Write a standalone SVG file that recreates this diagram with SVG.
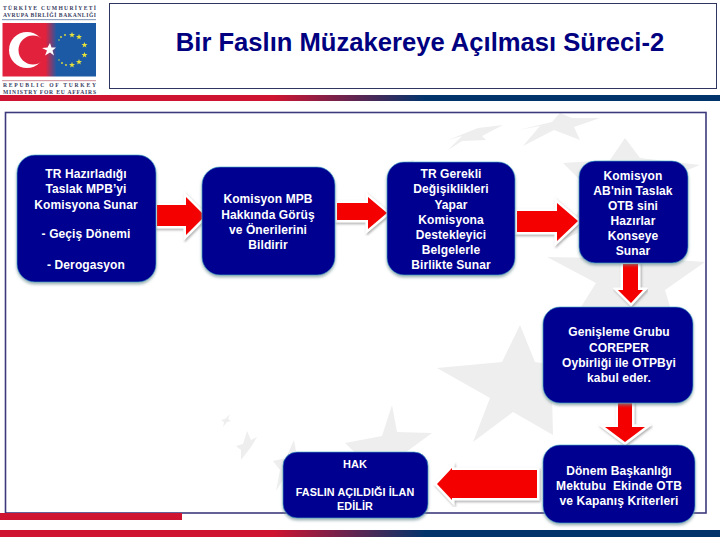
<svg xmlns="http://www.w3.org/2000/svg" width="720" height="540" viewBox="0 0 720 540">
<style>
text{font-family:"Liberation Sans",Arial,sans-serif}
.n{fill:#000090;stroke:#3fb0c8;stroke-width:.8;stroke-opacity:.75;filter:url(#ns)}
.t{fill:#fff;font-weight:700;font-size:12px;text-anchor:middle;letter-spacing:.1px}
.s{fill:#eeeeee}
.a{fill:#f40000;stroke:#fff;stroke-width:5;stroke-linejoin:miter;paint-order:stroke;filter:url(#as)}
.l{font-family:"Liberation Serif",serif;font-size:5.6px;font-weight:700;fill:#39405f}
</style>
<defs>
<linearGradient id="bar" x1="0" x2="720" y1="0" y2="0" gradientUnits="userSpaceOnUse">
<stop offset="0" stop-color="#ce1431"/><stop offset=".38" stop-color="#ce1431"/><stop offset=".59" stop-color="#02346c"/><stop offset="1" stop-color="#02346c"/>
</linearGradient>
<linearGradient id="flag" x1="0" x2="1" y1="0" y2="0">
<stop offset="0" stop-color="#e2213c"/><stop offset=".46" stop-color="#e2213c"/><stop offset=".58" stop-color="#1c5aa6"/><stop offset="1" stop-color="#1c5aa6"/>
</linearGradient>
<polygon id="eu" points="0,-3 .8,-1 3,-1 1.200,.4 1.900,2.600 0,1.300 -1.900,2.600 -1.200,.4 -3,-1 -.8,-1" fill="#e6e23a"/>
<filter id="ns" x="-10%" y="-10%" width="120%" height="125%"><feDropShadow dx="0" dy="2" stdDeviation="1.500" flood-color="#6a8a90" flood-opacity=".7"/></filter>
<filter id="as" x="-20%" y="-20%" width="140%" height="140%"><feDropShadow dx="1" dy="1.500" stdDeviation="1" flood-color="#777" flood-opacity=".6"/></filter>
</defs>
<rect width="720" height="540" fill="#fff"/>

<g id="background-stars">
<polygon class="s" points="625,138 640,158 700,165 650,185 655,240 615,215 563,240 590,190 563,163 610,160"/>
<polygon class="s" points="547,257 600,258 625,225 650,258 705,262 665,290 680,340 625,318 581,307 596,283"/>
<polygon class="s" points="520,325 535,362 590,370 552,395 553,435 513,412 473,442 490,398 437,368 502,362"/>
<polygon class="s" points="392,405 397,432 432,433 402,455 420,490 385,470 345,500 365,462 345,443 382,436"/>
<polygon class="s" points="560,113 572,118 600,118 574,127 580,140 554,130 523,146 540,126 518,130 552,122"/>
<polygon class="s" points="503,125 482,136 486,140 462,141 448,150 462,136 448,140 478,128"/>
<polygon class="s" points="414,160 408,171 395,178 400,166 386,170 403,163"/>
<polygon class="s" points="247,431 251,440 257,437 251,447 241,460 241,450 236,446 243,444"/>
<polygon class="s" points="230,414 228,419 231,421 227,422 223,427 224,422 221,420 225,419"/>
<polygon class="s" points="294,440 298,462 296,490 284,478 276,491 280,470 273,461 286,458"/>
</g>

<rect id="frame" x="5.500" y="112.500" width="700.500" height="400.500" fill="none" stroke="#3c3a7c" stroke-width="1.600"/>
<rect id="title-box" x="109.500" y="3.500" width="607" height="85" fill="#fff" stroke="#2d3560" stroke-width="1"/>
<rect id="header-bar" x="0" y="95" width="720" height="6" fill="url(#bar)"/>
<rect id="bottom-bar" x="0" y="530" width="720" height="7" fill="url(#bar)"/>
<rect id="red-bar" x="0" y="513" width="182" height="7" fill="#ce1431"/>

<g id="logo">
<text class="l" x="3" y="9.500" textLength="93">TÜRKİYE CUMHURİYETİ</text>
<text class="l" x="3" y="16.500" textLength="93">AVRUPA BİRLİĞİ BAKANLIĞI</text>
<rect x="2" y="19" width="94" height="1.200" fill="#8fa2c0"/>
<rect x="2.500" y="23" width="93.500" height="53.500" fill="url(#flag)"/>
<circle cx="27" cy="50" r="18" fill="#fff"/>
<circle cx="33" cy="50" r="14.500" fill="#e2213c"/>
<polygon points="50,43 51.500,47.500 56,47.500 52.500,50.500 54,55.500 50,52.500 45,55.500 47,50.500 42,48 47.500,47.500" fill="#fff"/>
<use href="#eu" x="72" y="35"/><use href="#eu" x="79" y="37"/><use href="#eu" x="84.500" y="45"/>
<use href="#eu" x="84.500" y="55"/><use href="#eu" x="79" y="62"/><use href="#eu" x="72" y="65"/>
<g fill="#e6e23a">
<circle cx="65" cy="35" r=".9"/><circle cx="61" cy="37" r=".9"/><circle cx="59" cy="40" r=".7"/>
<circle cx="66" cy="65" r=".9"/><circle cx="62" cy="63" r=".9"/><circle cx="59" cy="60" r=".7"/>
</g>
<rect x="2" y="80" width="94" height="1.200" fill="#d8a0a8"/>
<text class="l" x="3" y="87" textLength="93">REPUBLIC OF TURKEY</text>
<text class="l" x="3" y="93.500" textLength="93">MINISTRY FOR EU AFFAIRS</text>
</g>

<text id="title" x="420" y="51" text-anchor="middle" font-size="25.600" font-weight="700" fill="#000080">Bir Faslın Müzakereye Açılması Süreci-2</text>

<g id="connectors">
<polygon class="a" points="157,205 186,205 186,197 205,216 186,235 186,226 157,226"/>
<polygon class="a" points="337,203 368,203 368,197 387,213 368,229 368,220 337,220"/>
<polygon class="a" points="517,211 557,211 557,203 578,221 557,241 557,232 517,232"/>
<polygon class="a" points="623,264 638,264 638,290 643,290 631,303 618,290 623,290"/>
<polygon class="a" points="618,403 632,403 632,427 645,427 625,442 605,427 618,427"/>
<polygon class="a" points="537,470 537,498 452,498 452,500 437,484 452,468 452,470"/>
</g>

<g id="node-1">
<rect class="n" x="17" y="155" width="139" height="127" rx="18"/>
<text class="t" x="86" y="177.500">TR Hazırladığı</text>
<text class="t" x="86" y="192.500">Taslak MPB’yi</text>
<text class="t" x="86" y="208.500">Komisyona Sunar</text>
<text class="t" x="86" y="238">- Geçiş Dönemi</text>
<text class="t" x="86" y="269">- Derogasyon</text>
</g>
<g id="node-2">
<rect class="n" x="202" y="167" width="133" height="108" rx="18"/>
<text class="t" x="268" y="203">Komisyon MPB</text>
<text class="t" x="268" y="218.500">Hakkında Görüş</text>
<text class="t" x="268" y="234">ve Önerilerini</text>
<text class="t" x="268" y="249">Bildirir</text>
</g>
<g id="node-3">
<rect class="n" x="387" y="162" width="128" height="113" rx="17"/>
<text class="t" x="451" y="177.500">TR Gerekli</text>
<text class="t" x="451" y="193">Değişiklikleri</text>
<text class="t" x="451" y="208.500">Yapar</text>
<text class="t" x="451" y="223.500">Komisyona</text>
<text class="t" x="451" y="238.500">Destekleyici</text>
<text class="t" x="451" y="254">Belgelerle</text>
<text class="t" x="451" y="269">Birlikte Sunar</text>
</g>
<g id="node-4">
<rect class="n" x="579" y="161" width="109" height="102" rx="16"/>
<text class="t" x="633" y="179.500">Komisyon</text>
<text class="t" x="633" y="194.500">AB'nin Taslak</text>
<text class="t" x="633" y="209.500">OTB sini</text>
<text class="t" x="633" y="225">Hazırlar</text>
<text class="t" x="633" y="240">Konseye</text>
<text class="t" x="633" y="255">Sunar</text>
</g>
<g id="node-5">
<rect class="n" x="543" y="307" width="150" height="96" rx="17"/>
<text class="t" x="619" y="336">Genişleme Grubu</text>
<text class="t" x="619" y="351.500">COREPER</text>
<text class="t" x="619" y="367">Oybirliği ile OTPByi</text>
<text class="t" x="619" y="382">kabul eder.</text>
</g>
<g id="node-6">
<rect class="n" x="543" y="445" width="152" height="78" rx="17"/>
<text class="t" x="619" y="474.500">Dönem Başkanlığı</text>
<text class="t" x="619" y="490" xml:space="preserve">Mektubu  Ekinde OTB</text>
<text class="t" x="619" y="505">ve Kapanış Kriterleri</text>
</g>
<g id="node-7">
<rect class="n" x="283" y="452" width="145" height="66" rx="14"/>
<text class="t" x="355" y="468" style="font-size:11px">HAK</text>
<text class="t" x="355" y="496" style="font-size:10.800px">FASLIN AÇILDIĞI İLAN</text>
<text class="t" x="355" y="510" style="font-size:10.800px">EDİLİR</text>
</g>
</svg>
